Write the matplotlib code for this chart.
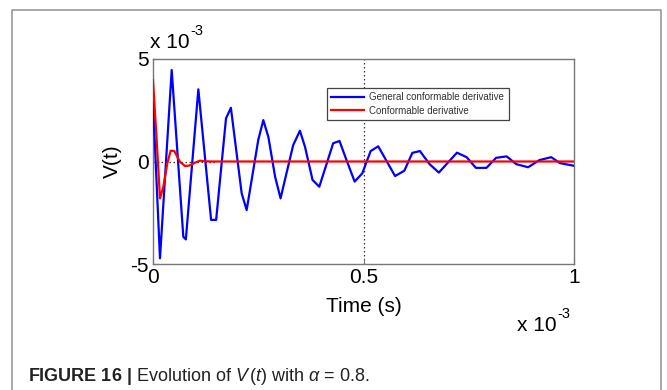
import matplotlib
matplotlib.use("Agg")
import matplotlib.pyplot as plt
from matplotlib import font_manager
from matplotlib.lines import Line2D

# ---------------- data (time in ms, voltage in 1e-3 V) ----------------
t_general = [0.0, 0.0166, 0.0444, 0.072, 0.078, 0.1077, 0.138, 0.150, 0.1734,
             0.185, 0.2106, 0.2225, 0.25, 0.262, 0.274, 0.29, 0.303, 0.317,
             0.333, 0.349, 0.361, 0.379, 0.395, 0.428, 0.443, 0.4596, 0.479,
             0.497, 0.517, 0.535, 0.575, 0.597, 0.616, 0.634, 0.657, 0.679,
             0.722, 0.745, 0.767, 0.792, 0.815, 0.84, 0.863, 0.891, 0.918,
             0.946, 0.967, 1.0]
v_general = [2.9, -4.72, 4.46, -3.67, -3.8, 3.52, -2.85, -2.85, 2.1,
             2.62, -1.55, -2.37, 1.05, 2.02, 1.2, -0.74, -1.8, -0.58,
             0.8, 1.5, 0.72, -0.9, -1.23, 0.89, 1.0, 0.07, -0.98,
             -0.58, 0.51, 0.74, -0.71, -0.45, 0.42, 0.51, -0.13, -0.54,
             0.43, 0.21, -0.31, -0.31, 0.18, 0.25, -0.13, -0.28, 0.07,
             0.21, -0.08, -0.21]

t_conf = [0.0, 0.0087, 0.0166, 0.0245, 0.034, 0.042, 0.0506, 0.064, 0.076,
          0.086, 0.0998, 0.1116, 0.1235, 0.14, 1.0]
v_conf = [3.97, 1.05, -1.8, -1.23, -0.09, 0.53, 0.51, -0.01, -0.22,
          -0.2, -0.06, 0.04, 0.01, 0.0, 0.0]

x_ticks = [0, 0.5, 1]
x_ticklabels = ["0", "0.5", "1"]
y_ticks = [-5, 0, 5]
y_ticklabels = ["-5", "0", "5"]

labels = ["General conformable derivative", "Conformable derivative"]

# ---------------- fonts ----------------
avail = {f.name for f in font_manager.fontManager.ttflist}
main_font = "Liberation Sans" if "Liberation Sans" in avail else "DejaVu Sans"
cap_font = "Liberation Sans Narrow" if "Liberation Sans Narrow" in avail else main_font
plt.rcParams["font.family"] = [main_font, "DejaVu Sans"]
plt.rcParams["axes.unicode_minus"] = False
plt.rcParams["mathtext.fontset"] = "custom"
plt.rcParams["mathtext.rm"] = cap_font
plt.rcParams["mathtext.it"] = cap_font + ":italic"
plt.rcParams["mathtext.bf"] = cap_font + ":bold"

W, H = 667, 390
fig = plt.figure(figsize=(W / 100, H / 100), dpi=100)

# outer frame (open at the bottom)
frame_c = "#9a9a9a"
fig.add_artist(Line2D([12 / W, 12 / W, 661 / W, 661 / W],
                      [0, 1 - 10 / H, 1 - 10 / H, 0],
                      transform=fig.transFigure, color=frame_c, lw=1.2))

left, right, top, bottom = 153, 574, 59, 264
ax = fig.add_axes([left / W, 1 - bottom / H, (right - left) / W, (bottom - top) / H])

ax.plot(t_general, v_general, color="#0000ff", lw=1.6, label=labels[0], zorder=3)
ax.plot(t_conf, v_conf, color="#ff0000", lw=1.6, label=labels[1], zorder=4)
ax.axvline(0.5, color="#333333", lw=0.9, ls=(0, (1.2, 2)), zorder=1)
ax.hlines(0.0, 0, 0.15, color="#333333", lw=0.9, ls=(0, (1.2, 2)), zorder=1)

ax.set_xlim(0, 1)
ax.set_ylim(-5, 5)
ax.set_xticks(x_ticks)
ax.set_xticklabels(x_ticklabels)
ax.set_yticks(y_ticks)
ax.set_yticklabels(y_ticklabels)
ax.tick_params(direction="in", length=4, width=0.8, color="#777777",
               labelsize=15, pad=3, top=False, right=False)
for s in ax.spines.values():
    s.set_color("#777777")
    s.set_linewidth(1.0)

ax.set_xlabel("Time (s)", fontsize=15, labelpad=7)
ax.set_ylabel("V(t)", fontsize=15, labelpad=6)


def multiplier(x_px, y_px):
    base = fig.text(x_px / W, 1 - y_px / H, "x 10", fontsize=15,
                    ha="left", va="baseline")
    fig.draw_without_rendering() if False else None
    ax.annotate("-3", xy=(1.0, 0.72), xycoords=base, xytext=(0.5, 0),
                textcoords="offset points", fontsize=10.5, ha="left",
                va="bottom", annotation_clip=False)


multiplier(150, 48)
multiplier(517, 331)

leg = ax.legend(loc="upper left", bbox_to_anchor=((327 - left) / (right - left),
                                                   (bottom - 88) / (bottom - top)),
                borderaxespad=0, fancybox=False, fontsize=7, handlelength=3.4,
                handletextpad=0.5, labelspacing=0.35, borderpad=0.45,
                framealpha=1, edgecolor="#444444")
leg.get_frame().set_linewidth(0.9)
for txt in leg.get_texts():
    txt.set_color("#333333")

fig.text(28 / W, 1 - 381 / H,
         r"$\mathbf{FIGURE\ 16\ |}$ Evolution of $V\,(t)$ with $\alpha$ = 0.8.",
         fontsize=13, ha="left", va="baseline", color="#222222")

fig.savefig("out.png", dpi=100)
